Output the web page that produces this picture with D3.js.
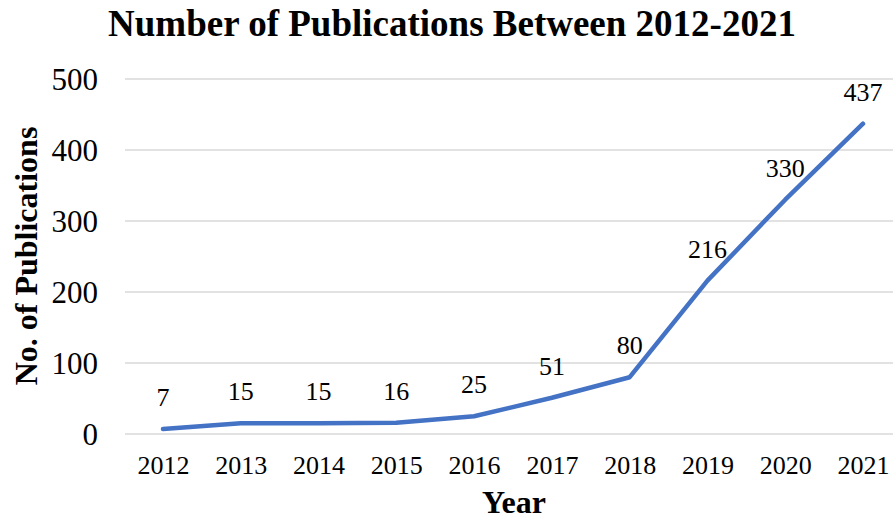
<!DOCTYPE html>
<html>
<head>
<meta charset="utf-8">
<script src="https://cdn.jsdelivr.net/npm/d3@7"></script>
<style>
  body { margin: 0; background: #fff; }
  svg text { font-family: "Liberation Serif", serif; fill: #000; }
</style>
</head>
<body>
<div id="chart"></div>
<script>
// data
const years = ["2012", "2013", "2014", "2015", "2016", "2017", "2018", "2019", "2020", "2021"];
const publications = [7, 15, 15, 16, 25, 51, 80, 216, 330, 437];
const yTicks = [0, 100, 200, 300, 400, 500];

const serif = "'Liberation Serif', serif";

const svgWidth = 893,
    svgHeight = 523;

const svg = d3.select("#chart")
  .append("svg")
  .attr("width", svgWidth)
  .attr("height", svgHeight);

// plot area
const gridLeft = 125,
    gridRight = 893;

const xScale = d3.scalePoint()
  .domain(years)
  .range([163, 863]);

const yScale = d3.scaleLinear()
  .domain([0, 500])
  .range([434, 79]);

// gridlines
svg.append("g")
  .selectAll("line")
  .data(yTicks)
  .enter()
  .append("line")
  .attr("x1", gridLeft)
  .attr("x2", gridRight)
  .attr("y1", d => yScale(d))
  .attr("y2", d => yScale(d))
  .attr("stroke", "#d9d9d9")
  .attr("stroke-width", 1.5);

// y axis labels
const yAxis = d3.axisLeft(yScale).tickValues(yTicks).tickSize(0).tickPadding(0);
svg.append("g")
  .attr("transform", `translate(98, 0)`)
  .call(yAxis)
  .call(g => g.select(".domain").remove())
  .selectAll("text")
  .style("font-family", serif)
  .style("font-size", "31px")
  .attr("dy", "0.33em");

// x axis labels
const xAxis = d3.axisBottom(xScale).tickSize(0).tickPadding(0);
svg.append("g")
  .attr("transform", `translate(0, 474)`)
  .call(xAxis)
  .call(g => g.select(".domain").remove())
  .selectAll("text")
  .style("font-family", serif)
  .style("font-size", "26px")
  .attr("dy", 0);

// the line
const line = d3.line()
  .x((d, i) => xScale(years[i]))
  .y(d => yScale(d));

svg.append("path")
  .datum(publications)
  .attr("d", line)
  .attr("fill", "none")
  .attr("stroke", "#4472c4")
  .attr("stroke-width", 4.5)
  .attr("stroke-linejoin", "round")
  .attr("stroke-linecap", "round");

// data labels
svg.append("g")
  .selectAll("text")
  .data(publications)
  .enter()
  .append("text")
  .attr("x", (d, i) => xScale(years[i]))
  .attr("y", d => yScale(d) - 23)
  .attr("text-anchor", "middle")
  .style("font-family", serif)
  .style("font-size", "26px")
  .text(d => d);

// titles
svg.append("text")
  .attr("x", 452)
  .attr("y", 36)
  .attr("text-anchor", "middle")
  .style("font-family", serif)
  .style("font-size", "37px")
  .style("font-weight", "bold")
  .text("Number of Publications Between 2012-2021");

svg.append("text")
  .attr("transform", "translate(37, 256) rotate(-90)")
  .attr("text-anchor", "middle")
  .style("font-family", serif)
  .style("font-size", "32px")
  .style("font-weight", "bold")
  .text("No. of Publications");

svg.append("text")
  .attr("x", 514)
  .attr("y", 513)
  .attr("text-anchor", "middle")
  .style("font-family", serif)
  .style("font-size", "32px")
  .style("font-weight", "bold")
  .text("Year");
</script>
</body>
</html>
